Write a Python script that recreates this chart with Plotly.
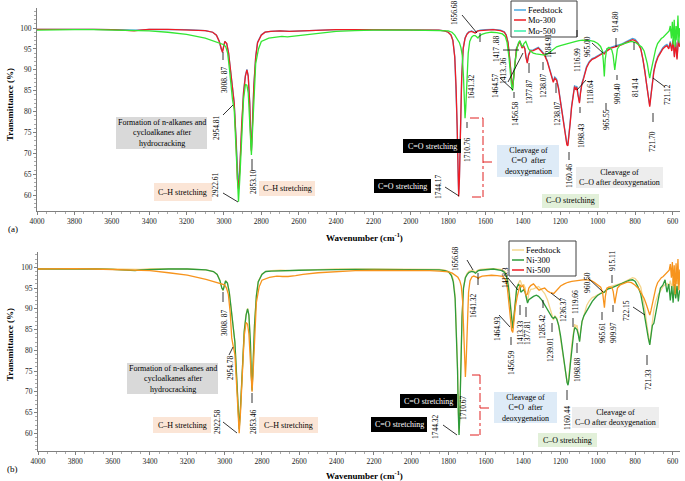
import plotly.graph_objects as go

W, H = 685, 481
FONT = "Liberation Serif, Times New Roman, serif"

# ---------------- data ----------------
# wavenumber grid for the ester-type spectra (feedstock, Mo-300, Ni-300)
wn_ester = [
    4000, 3900, 3800, 3700, 3600, 3500, 3480, 3450, 3400, 3300,
    3200, 3100, 3060, 3040, 3025, 3015, 3008, 3000, 2995, 2985,
    2975, 2965, 2958, 2954, 2945, 2935, 2928, 2922, 2915, 2905,
    2895, 2885, 2877, 2870, 2862, 2857, 2853, 2848, 2840, 2830,
    2820, 2800, 2780, 2750, 2700, 2650, 2600, 2500, 2400, 2300,
    2200, 2100, 2000, 1900, 1850, 1820, 1800, 1785, 1775, 1765,
    1758, 1752, 1748, 1744, 1740, 1735, 1728, 1720, 1710, 1700,
    1690, 1675, 1665, 1656, 1648, 1641, 1630, 1600, 1560, 1520,
    1500, 1490, 1480, 1472, 1464, 1460, 1456, 1450, 1442, 1435,
    1425, 1417, 1413, 1405, 1398, 1390, 1384, 1377, 1370, 1360,
    1345, 1330, 1318, 1300, 1285, 1270, 1255, 1245, 1238, 1230,
    1220, 1210, 1200, 1190, 1180, 1172, 1165, 1160, 1155, 1148,
    1140, 1130, 1124, 1118, 1112, 1106, 1098, 1092, 1085, 1075,
    1060, 1045, 1030, 1015, 1000, 985, 972, 965, 958, 945,
    930, 915, 905, 890, 870, 850, 830, 814, 800, 785,
    770, 758, 748, 738, 730, 722, 716, 708, 700, 690,
    678, 665, 652, 640, 630, 620, 612, 604, 597, 590,
    583, 576, 569, 562,
]

feedstock_t = [
    99.7, 99.7, 99.8, 99.7, 99.6, 99.5, 99.4, 99.5, 99.7, 99.7,
    99.6, 99.4, 99.0, 98.3, 96.9, 95.0, 94.4, 95.9, 96.8, 96.3,
    94.0, 90.0, 86.6, 85.9, 82.2, 73.5, 64.5, 61.8, 66.5, 77.5,
    84.8, 88.7, 90.1, 88.6, 82.3, 74.5, 70.8, 76.5, 86.3, 93.2,
    96.6, 98.4, 99.0, 99.2, 99.3, 99.2, 99.3, 99.5, 99.6, 99.6,
    99.6, 99.6, 99.6, 99.5, 99.5, 99.3, 99.0, 98.3, 97.1, 93.2,
    86.3, 76.5, 66.5, 60.2, 64.5, 75.5, 88.3, 95.2, 97.6, 98.6,
    99.1, 99.3, 99.1, 98.9, 99.2, 99.4, 99.5, 99.6, 99.7, 99.5,
    99.1, 98.4, 96.6, 93.2, 88.8, 86.3, 85.6, 88.3, 92.7, 95.2,
    96.2, 96.9, 96.5, 95.4, 95.9, 95.1, 93.2, 91.8, 93.7, 94.7,
    94.8, 95.2, 95.4, 94.5, 93.7, 92.2, 89.7, 87.8, 87.3, 88.3,
    87.8, 85.8, 82.8, 79.3, 75.8, 73.3, 72.3, 72.1, 73.8, 77.3,
    81.3, 85.3, 86.3, 85.5, 86.1, 84.3, 82.3, 84.8, 86.8, 88.3,
    90.8, 92.0, 92.7, 93.0, 93.5, 93.8, 94.2, 94.1, 94.5, 95.0,
    95.4, 95.6, 95.7, 96.0, 96.2, 96.7, 97.1, 97.5, 97.3, 96.5,
    95.2, 92.7, 89.8, 86.3, 83.3, 81.5, 83.8, 87.3, 89.8, 91.8,
    93.3, 94.3, 95.3, 95.8, 96.1, 95.3, 96.8, 94.8, 97.3, 93.3,
    96.8, 92.8, 97.3, 95.8,
]

mo300_t = [
    99.7, 99.7, 99.8, 99.7, 99.6, 99.5, 99.3, 99.5, 99.7, 99.7,
    99.6, 99.4, 99.0, 98.3, 96.8, 94.8, 94.2, 95.8, 96.8, 96.3,
    94.0, 90.0, 86.5, 85.8, 82.0, 73.0, 64.0, 61.5, 66.0, 77.0,
    84.5, 88.5, 90.0, 88.5, 82.0, 74.0, 70.5, 76.0, 86.0, 93.0,
    96.5, 98.3, 99.0, 99.2, 99.3, 99.2, 99.3, 99.5, 99.6, 99.6,
    99.6, 99.6, 99.6, 99.5, 99.5, 99.3, 99.0, 98.3, 97.0, 93.0,
    86.0, 76.0, 66.0, 59.7, 64.0, 75.0, 88.0, 95.0, 97.5, 98.5,
    99.0, 99.2, 99.0, 98.8, 99.1, 99.3, 99.4, 99.5, 99.6, 99.4,
    99.0, 98.3, 96.5, 93.0, 88.5, 86.0, 85.3, 88.0, 92.5, 95.0,
    96.0, 96.8, 96.3, 95.2, 95.8, 95.0, 93.0, 91.6, 93.5, 94.5,
    94.6, 95.0, 95.2, 94.3, 93.5, 92.0, 89.5, 87.5, 87.0, 88.0,
    87.5, 85.5, 82.5, 79.0, 75.5, 73.0, 72.0, 71.8, 73.5, 77.0,
    81.0, 85.0, 86.0, 85.2, 85.8, 84.0, 82.0, 84.5, 86.5, 88.0,
    90.5, 91.8, 92.5, 92.8, 93.3, 93.6, 94.0, 93.8, 94.3, 94.8,
    95.2, 95.4, 95.5, 95.8, 96.0, 96.5, 96.9, 97.2, 97.0, 96.3,
    95.0, 92.5, 89.5, 86.0, 83.0, 81.2, 83.5, 87.0, 89.5, 91.5,
    93.0, 94.0, 95.0, 95.5, 95.8, 95.0, 96.5, 94.5, 97.0, 93.0,
    96.5, 92.5, 97.0, 95.5,
]

ni300_t = [
    99.6, 99.6, 99.7, 99.6, 99.5, 99.4, 99.2, 99.4, 99.5, 99.6,
    99.6, 99.4, 99.0, 98.3, 96.8, 95.0, 94.5, 95.8, 96.7, 96.2,
    94.0, 90.0, 86.5, 85.8, 82.0, 73.0, 64.0, 61.0, 66.0, 77.0,
    84.5, 88.5, 90.0, 88.5, 82.0, 74.0, 70.3, 76.0, 86.0, 93.0,
    96.5, 98.3, 99.0, 99.1, 99.2, 99.2, 99.3, 99.4, 99.5, 99.5,
    99.5, 99.5, 99.5, 99.5, 99.4, 99.2, 98.9, 98.0, 96.5, 92.5,
    85.0, 75.0, 65.0, 59.6, 64.0, 75.0, 88.0, 95.0, 97.5, 98.3,
    98.8, 99.0, 98.9, 98.6, 99.0, 99.2, 99.3, 99.5, 99.6, 99.3,
    98.8, 97.8, 95.5, 92.0, 88.0, 86.0, 85.3, 88.0, 92.5, 95.0,
    96.0, 95.2, 94.0, 94.3, 94.6, 94.0, 92.5, 91.4, 92.2, 92.6,
    93.0, 93.3, 93.0, 92.1, 91.0, 89.8, 88.6, 87.9, 87.7, 88.1,
    87.5, 86.0, 83.5, 80.0, 76.5, 74.0, 72.2, 71.6, 73.0, 76.5,
    80.5, 84.0, 85.5, 85.3, 85.0, 84.0, 82.1, 84.5, 87.0, 88.3,
    89.5, 90.5, 91.8, 92.6, 93.3, 93.7, 94.0, 94.0, 94.4, 94.8,
    95.0, 95.3, 95.5, 95.8, 96.1, 96.5, 96.9, 97.0, 96.6, 95.3,
    93.5, 90.5, 87.5, 85.0, 83.0, 81.3, 84.0, 86.0, 86.5, 89.0,
    92.5, 95.0, 95.7, 97.0, 94.0, 96.0, 92.0, 95.5, 91.5, 96.0,
    92.5, 95.5, 91.8, 94.5,
]

# wavenumber grid for the deoxygenated spectra (Mo-500, Ni-500)
wn_hc = [
    4000, 3900, 3800, 3700, 3600, 3500, 3400, 3300, 3200, 3100,
    3050, 3020, 3000, 2990, 2980, 2970, 2962, 2954, 2945, 2935,
    2928, 2922, 2915, 2905, 2895, 2885, 2877, 2870, 2862, 2857,
    2853, 2848, 2840, 2830, 2815, 2800, 2760, 2720, 2690, 2660,
    2620, 2580, 2500, 2400, 2300, 2200, 2000, 1900, 1850, 1800,
    1780, 1765, 1750, 1740, 1732, 1725, 1718, 1714, 1710, 1706,
    1700, 1693, 1685, 1675, 1665, 1656, 1648, 1641, 1635, 1620,
    1600, 1570, 1540, 1510, 1495, 1485, 1475, 1468, 1462, 1456,
    1450, 1442, 1432, 1424, 1417, 1410, 1402, 1395, 1385, 1377,
    1370, 1360, 1345, 1330, 1315, 1300, 1285, 1270, 1255, 1236,
    1220, 1200, 1180, 1160, 1140, 1117, 1100, 1080, 1060, 1040,
    1020, 1000, 985, 975, 970, 965, 960, 952, 940, 925,
    918, 912, 909, 905, 895, 880, 860, 840, 820, 800,
    780, 765, 752, 742, 735, 728, 722, 716, 708, 700,
    690, 680, 670, 660, 650, 640, 632, 625, 618, 612,
    606, 601, 596, 591, 586, 581, 576, 571, 566, 561,
]

mo500_t = [
    99.5, 99.6, 99.6, 99.6, 99.5, 99.3, 99.3, 99.0, 98.5, 97.6,
    96.8, 96.3, 96.0, 95.5, 94.0, 90.0, 85.5, 82.8, 80.5, 72.0,
    63.0, 58.4, 64.0, 75.0, 83.0, 86.5, 86.3, 84.5, 79.0, 73.0,
    69.6, 74.0, 84.0, 91.5, 95.0, 96.8, 97.6, 97.9, 98.0, 97.9,
    98.1, 98.4, 98.8, 99.2, 99.4, 99.5, 99.5, 99.5, 99.4, 99.3,
    99.0, 98.3, 97.3, 96.5, 95.3, 93.5, 88.0, 82.0, 78.4, 81.0,
    88.0, 94.0, 96.8, 97.8, 98.2, 98.2, 97.9, 97.6, 98.0, 98.5,
    98.8, 99.0, 98.9, 98.6, 98.0, 96.5, 93.0, 89.0, 86.5, 85.0,
    88.0, 92.0, 95.0, 96.5, 97.0, 96.0, 95.5, 96.3, 96.8, 96.0,
    95.0, 94.5, 94.0, 93.8, 93.7, 93.6, 93.5, 93.8, 94.3, 95.0,
    95.5, 95.8, 96.0, 96.2, 96.5, 96.8, 97.0, 97.1, 97.0, 97.0,
    96.8, 96.3, 95.6, 94.5, 92.0, 88.4, 92.5, 95.0, 95.4, 94.8,
    93.5, 91.0, 90.0, 91.5, 95.0, 96.0, 96.3, 96.6, 96.8, 96.6,
    96.0, 95.5, 94.5, 93.0, 91.5, 89.5, 88.0, 89.5, 91.5, 93.0,
    95.0, 96.3, 97.0, 97.5, 97.8, 98.2, 98.6, 99.0, 99.3, 100.5,
    97.5, 101.5, 96.0, 102.0, 95.5, 100.5, 97.0, 103.0, 96.5, 100.0,
]

ni500_t = [
    99.6, 99.7, 99.7, 99.6, 99.5, 99.3, 99.2, 98.7, 98.1, 97.1,
    96.4, 96.1, 95.8, 95.0, 93.5, 89.0, 83.0, 81.0, 79.0, 71.0,
    63.0, 60.0, 65.0, 75.0, 83.5, 86.7, 86.3, 84.0, 78.0, 72.5,
    70.0, 74.0, 84.0, 91.5, 95.3, 96.9, 97.6, 97.9, 97.8, 97.8,
    98.0, 98.3, 98.7, 99.0, 99.2, 99.3, 99.3, 99.2, 99.1, 98.9,
    98.6, 98.2, 97.6, 96.8, 95.5, 92.0, 84.0, 77.0, 73.6, 77.0,
    86.0, 94.0, 96.8, 97.7, 97.9, 97.8, 97.6, 97.3, 97.6, 97.9,
    98.0, 98.1, 98.0, 97.8, 97.0, 95.0, 90.5, 87.0, 84.8, 84.3,
    87.0, 90.5, 93.0, 95.0, 95.8, 95.3, 95.6, 94.8, 93.3, 93.6,
    95.0, 95.6, 96.0, 95.2, 94.5, 94.8, 95.0, 94.3, 93.9, 93.7,
    94.6, 95.5, 96.0, 96.4, 96.6, 96.8, 96.9, 97.0, 97.0, 96.9,
    96.4, 95.8, 95.2, 94.0, 92.5, 90.3, 93.0, 95.0, 95.3, 95.2,
    94.2, 92.0, 91.3, 92.5, 95.0, 95.8, 96.2, 96.5, 96.3, 95.7,
    94.8, 93.6, 92.5, 91.3, 90.2, 89.2, 88.5, 89.5, 91.5, 93.0,
    95.0, 96.3, 97.0, 97.5, 97.8, 98.3, 98.7, 99.0, 99.3, 100.8,
    97.5, 101.3, 95.5, 100.5, 93.5, 101.0, 96.0, 102.0, 94.5, 99.5,
]

x_ticks = [4000, 3800, 3600, 3400, 3200, 3000, 2800, 2600, 2400, 2200,
           2000, 1800, 1600, 1400, 1200, 1000, 800, 600]
y_ticks = [60, 65, 70, 75, 80, 85, 90, 95, 100]

# ---------------- figure ----------------
fig = go.Figure()

C_FEED_A = "#4aa8e0"
C_MO300 = "#ee1c25"
C_MO500 = "#33e633"
C_FEED_B = "#f5d58a"
C_NI300 = "#2e9b3a"
C_NI500 = "#f7941d"

def add_line(x, y, color, name, xa, ya):
    fig.add_trace(go.Scatter(x=x, y=y, mode="lines", name=name,
                             line=dict(color=color, width=1.3),
                             xaxis=xa, yaxis=ya, showlegend=False))

add_line(wn_ester, feedstock_t, C_FEED_A, "Feedstock", "x", "y")
add_line(wn_ester, mo300_t, C_MO300, "Mo-300", "x", "y")
add_line(wn_hc, mo500_t, C_MO500, "Mo-500", "x", "y")

add_line(wn_ester, feedstock_t, C_FEED_B, "Feedstock", "x2", "y2")
add_line(wn_ester, ni300_t, C_NI300, "Ni-300", "x2", "y2")
add_line(wn_hc, ni500_t, C_NI500, "Ni-500", "x2", "y2")

AX = "#808080"
def xaxis_cfg(dom, anchor):
    return dict(domain=dom, range=[4000, 560], anchor=anchor,
                tickvals=x_ticks, ticks="outside", ticklen=3, tickcolor=AX,
                showline=True, linecolor=AX, linewidth=1, showgrid=False,
                zeroline=False, automargin=False,
                tickfont=dict(family=FONT, size=7.5, color="#222"),
                minor=dict(ticks="outside", ticklen=2, dtick=50, tickcolor="#aaa"))

def yaxis_cfg(dom, rng, anchor):
    return dict(domain=dom, range=rng, anchor=anchor,
                tickvals=y_ticks, ticks="outside", ticklen=3, tickcolor=AX,
                showline=True, linecolor=AX, linewidth=1, showgrid=False,
                zeroline=False, automargin=False,
                tickfont=dict(family=FONT, size=7.5, color="#222"),
                minor=dict(ticks="outside", ticklen=2, dtick=1, tickcolor="#aaa"))

fig.update_layout(
    width=W, height=H, margin=dict(l=0, r=0, t=0, b=0, autoexpand=False),
    paper_bgcolor="white", plot_bgcolor="white", showlegend=False,
    xaxis=xaxis_cfg([37 / W, 680 / W], "y"),
    yaxis=yaxis_cfg([1 - 211 / H, 1 - 8 / H], [56.2, 104.8], "x"),
    xaxis2=xaxis_cfg([38 / W, 680 / W], "y2"),
    yaxis2=yaxis_cfg([1 - 451.3 / H, 1 - 252 / H], [55.66, 103.7], "x2"),
)

# ---------------- decorations (pixel-positioned) ----------------
def px(x): return x / W
def py(y): return 1 - y / H

def text(t, x, y, size=8, angle=0, color="#000", bold=False, xanchor="center"):
    if bold:
        t = "<b>" + t + "</b>"
    fig.add_annotation(x=px(x), y=py(y), xref="paper", yref="paper", text=t,
                       showarrow=False, textangle=angle, xanchor=xanchor,
                       yanchor="middle", borderpad=0,
                       font=dict(family=FONT, size=size, color=color))

def seg(x0, y0, x1, y1, color="#000", width=0.8, dash="solid"):
    fig.add_shape(type="line", xref="paper", yref="paper",
                  x0=px(x0), y0=py(y0), x1=px(x1), y1=py(y1),
                  line=dict(color=color, width=width, dash=dash))

def box(lines, x0, y0, x1, y1, fill, color="#000", size=8):
    fig.add_shape(type="rect", xref="paper", yref="paper",
                  x0=px(x0), y0=py(y0), x1=px(x1), y1=py(y1),
                  fillcolor=fill, line=dict(width=0), layer="above")
    text("<br>".join(lines), (x0 + x1) / 2, (y0 + y1) / 2, size=size, color=color)

def vlab(t, x, y):
    text(t, x, y, size=7.5, angle=-90)

# axis titles and panel letters
for yc in (105, 345):
    text("Transmittance (%)", 10, yc, size=9, angle=-90, bold=True)
text("Wavenumber (cm<sup>-1</sup>)", 364, 237, size=9, bold=True)
text("Wavenumber (cm<sup>-1</sup>)", 364, 475, size=9, bold=True)
text("(a)", 13, 229, size=9)
text("(b)", 12, 469, size=9)

# legends
def legend(x0, y0, x1, y1, items):
    fig.add_shape(type="rect", xref="paper", yref="paper",
                  x0=px(x0), y0=py(y0), x1=px(x1), y1=py(y1),
                  fillcolor="white", line=dict(color="#404040", width=1), layer="above")
    for name, color, yy in items:
        seg(x0 + 3, yy, x0 + 15, yy, color=color, width=1.5)
        text(name, x0 + 16, yy, size=8.5, xanchor="left")

legend(511, 1, 577, 37, [("Feedstock", C_FEED_A, 10), ("Mo-300", C_MO300, 20), ("Mo-500", "#38f0a8", 31)])
legend(509, 241, 576, 276, [("Feedstock", "#f5d78e", 250), ("Ni-300", C_NI300, 260), ("Ni-500", C_MO300, 270)])

# ----- panel (a) boxes -----
GRAY = "#d9d9d9"; PEACH = "#fbe5d6"; BLUE = "#deebf7"; LGRAY = "#ededed"; GREEN = "#e2f0d9"
box(["Formation of n-alkanes and", "cycloalkanes after", "hydrocracking"], 116, 117, 207, 149, GRAY)
box(["C\u2013H stretching"], 154, 183, 212, 201, PEACH)
box(["C\u2013H stretching"], 259, 181, 315, 196, PEACH)
box(["C=O stretching"], 403, 139, 461, 153, "#000000", color="#ffffff")
box(["C=O stretching"], 374, 179, 431, 193, "#000000", color="#ffffff")
box(["Cleavage of", "C=O  after", "deoxygenation"], 497, 145, 559, 177, BLUE)
box(["Cleavage of", "C\u2013O after deoxygenation"], 576, 167, 663, 188, LGRAY)
box(["C\u2013O stretching"], 542, 194, 599, 208, GREEN)

# red bracket (a)
RB = dict(color="#e02020", width=1, dash="dashdot")
seg(470, 118, 483, 118, **RB)
seg(483, 118, 483, 197, **RB)
seg(483, 162, 493, 162, **RB)
seg(472, 197, 483, 197, **RB)

# peak labels (a)
for t, x, y in [
    ("3008. 87", 224, 80), ("2954.81", 216, 128), ("2922.61", 216, 185),
    ("2853.10", 253, 182), ("1656.68", 455, 13), ("1641.32", 471, 87),
    ("1417 .88", 497, 49), ("1413..36", 503, 71), ("1464.57", 495, 86),
    ("1456.58", 515, 114), ("1377.87", 529, 92), ("1238.07", 543, 86),
    ("1284.91", 548, 46), ("1238.07", 557, 114), ("1160.46", 569, 176),
    ("1116.99", 577, 60), ("1098.43", 581, 136), ("1118.64", 590, 92),
    ("965.00", 587, 47), ("965.55", 606, 120), ("914.80", 615, 22),
    ("909.40", 617, 94), ("81414", 635, 88), ("721.70", 652, 142),
    ("721.12", 667, 95), ("1710.76", 467, 150), ("1744.17", 438, 187),
]:
    vlab(t, x, y)

for x0, y0, x1, y1 in [
    (223, 52, 223, 60), (223, 115, 233, 105), (223, 193, 238, 202),
    (252, 159, 252, 170), (462, 15, 477, 33), (480, 33, 480, 42),
    (503, 50, 519, 50), (508, 82, 523, 53), (500, 78, 513, 90),
    (514, 92, 514, 98), (529, 63, 529, 73), (543, 62, 543, 70),
    (545, 54, 556, 53), (556, 83, 556, 93), (569, 152, 569, 160),
    (577, 30, 577, 37), (580, 107, 580, 113), (586, 80, 577, 90),
    (592, 43, 603, 53), (606, 103, 606, 110), (616, 38, 616, 47),
    (617, 75, 617, 80), (634, 42, 634, 50), (653, 113, 653, 122),
    (653, 78, 665, 87), (467, 122, 467, 128), (445, 187, 459, 196),
]:
    seg(x0, y0, x1, y1)

# ----- panel (b) boxes -----
box(["Formation of n-alkanes and", "cycloalkanes after", "hydrocracking"], 127, 363, 218, 394, GRAY)
box(["C\u2013H stretching"], 153, 417, 211, 433, PEACH)
box(["C\u2013H stretching"], 259, 417, 318, 433, PEACH)
box(["C=O stretching"], 400, 394, 457, 408, "#000000", color="#ffffff")
box(["C=O stretching"], 371, 417, 427, 432, "#000000", color="#ffffff")
box(["Cleavage of", "C=O  after", "deoxygenation"], 494, 392, 557, 423, BLUE)
box(["Cleavage of", "C\u2013O after deoxygenation"], 572, 407, 659, 428, LGRAY)
box(["C\u2013O stretching"], 538, 433, 597, 447, GREEN)

seg(472, 375, 480, 375, **RB)
seg(480, 375, 480, 435, **RB)
seg(480, 408, 492, 408, **RB)
seg(470, 435, 480, 435, **RB)

for t, x, y in [
    ("3008. 87", 224, 323), ("2954.78", 230, 367), ("2922.58", 217, 422),
    ("2853.46", 253, 422), ("1656.68", 455, 259), ("1641.32", 473, 305),
    ("1418.3", 505, 278), ("1464.93", 497, 329), ("1456.59", 511, 363),
    ("1413.33", 520, 333), ("1377.81", 527, 333), ("1285.42", 542, 327),
    ("1239.01", 550, 350), ("1236.37", 563, 310), ("1119.66", 575, 302),
    ("1098.88", 577, 370), ("1160.44", 567, 418), ("960.50", 587, 283),
    ("915.11", 612, 261), ("965.61", 602, 333), ("909.97", 613, 333),
    ("722.15", 626, 311), ("721.33", 648, 380), ("1710.67", 463, 408),
    ("1744.32", 435, 427),
]:
    vlab(t, x, y)

for x0, y0, x1, y1 in [
    (223, 292, 223, 302), (229, 355, 233, 347), (223, 422, 237, 433),
    (252, 393, 252, 403), (467, 260, 473, 270), (478, 273, 478, 285),
    (508, 278, 518, 290), (499, 315, 510, 327), (511, 337, 511, 345),
    (520, 305, 520, 315), (526, 307, 526, 317), (543, 300, 543, 308),
    (552, 323, 552, 332), (551, 293, 560, 300), (573, 318, 573, 327),
    (577, 343, 577, 353), (567, 390, 567, 400), (588, 278, 603, 292),
    (612, 275, 612, 283), (602, 312, 602, 320), (613, 305, 613, 312),
    (633, 307, 645, 315), (647, 355, 647, 365), (443, 425, 457, 435),
]:
    seg(x0, y0, x1, y1)

fig.write_html("out.html", config={"displayModeBar": False},
               post_script="document.body.style.margin='0';document.body.style.overflow='hidden';")
